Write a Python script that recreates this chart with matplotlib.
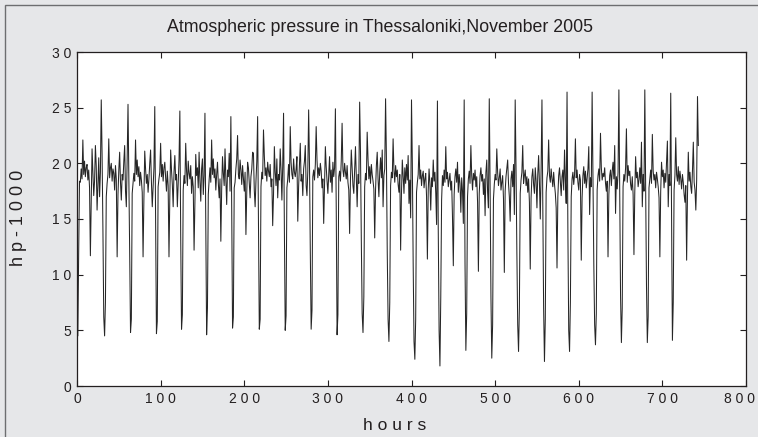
#!/usr/bin/env python3

import numpy as np
import matplotlib; matplotlib.use('Agg')
from matplotlib import pyplot as plt
from matplotlib.patches import Rectangle
from matplotlib.transforms import ScaledTranslation

############## DATA ################

# hourly pressure (hPa - 1000), one list per ~31 h cycle
pre = [7.0, 4.5, 12.0, 18.4, 18.3, 19.5, 18.6, 22.1, 19.0, 20.2, 18.8, 19.6, 19.9, 18.5, 19.4, 17.8, 11.7,
       16.5, 21.3, 19.2, 17.1, 18.4, 21.6, 19.8, 15.8, 18.0, 20.5, 17.0, 19.2, 25.7, 20.8, 14.0, 6.2]
c01 = [4.5, 7.5, 17.0, 18.2, 19.0, 22.2, 18.7, 19.6, 20.0, 18.4, 19.5, 19.1, 17.6, 19.8, 18.6, 11.6,
       17.2, 19.4, 21.0, 18.3, 16.7, 19.0, 18.5, 20.2, 21.6, 17.5, 16.1, 20.4, 25.3, 19.0, 12.0]
c02 = [4.8, 6.0, 17.3, 18.2, 19.1, 18.4, 22.1, 19.0, 20.3, 18.8, 19.7, 18.0, 19.2, 18.5, 17.4, 11.6,
       16.8, 21.1, 19.5, 18.2, 19.0, 17.4, 18.6, 20.0, 21.2, 18.3, 16.1, 17.8, 19.6, 25.1, 15.0]
c03 = [4.7, 5.8, 17.9, 18.6, 19.2, 21.8, 18.8, 19.9, 18.4, 19.6, 20.1, 18.7, 17.5, 19.3, 18.0, 11.6,
       17.0, 21.2, 19.4, 18.1, 16.1, 19.2, 20.7, 18.5, 19.0, 16.1, 18.2, 20.3, 24.7, 13.5]
c04 = [5.1, 6.4, 17.6, 18.9, 18.2, 21.8, 19.3, 18.0, 20.2, 19.1, 18.6, 19.8, 17.3, 18.8, 17.9, 12.2,
       16.5, 20.8, 18.9, 19.6, 17.8, 21.0, 18.4, 16.6, 19.5, 20.4, 17.2, 18.9, 24.5, 14.2]
c05 = [4.6, 7.0, 17.2, 18.5, 19.6, 18.3, 22.1, 19.0, 20.4, 18.7, 19.5, 17.6, 19.0, 20.1, 18.2, 16.9,
       18.6, 13.0, 17.7, 20.6, 19.1, 18.0, 21.3, 18.6, 16.3, 19.4, 18.8, 20.9, 17.5, 24.2, 16.0]
c06 = [5.2, 6.2, 17.8, 18.3, 19.5, 20.4, 22.5, 19.0, 18.6, 20.3, 19.4, 18.1, 19.8, 18.7, 17.5, 19.2,
       13.6, 17.4, 20.1, 19.6, 18.3, 16.9, 18.8, 19.5, 21.0, 20.9, 17.6, 16.1, 18.4, 20.2, 24.2, 15.0]
c07 = [5.1, 6.0, 17.9, 19.2, 18.6, 23.0, 20.7, 18.9, 19.6, 18.4, 20.1, 19.3, 18.8, 19.9, 17.9, 18.6,
       14.4, 17.2, 21.5, 19.2, 18.0, 20.4, 16.9, 19.0, 18.5, 21.3, 19.4, 16.7, 19.8, 24.5, 14.0]
c08 = [5.0, 6.3, 17.8, 18.6, 19.9, 18.3, 23.3, 20.1, 19.0, 18.6, 20.4, 19.2, 18.8, 19.5, 20.6, 14.8,
       17.9, 19.8, 21.8, 18.4, 19.0, 17.1, 19.5, 20.2, 21.6, 18.0, 17.1, 19.3, 24.8, 20.0, 12.0]
c09 = [5.1, 6.8, 18.8, 19.4, 18.5, 19.9, 23.3, 20.3, 18.7, 19.6, 18.9, 20.0, 19.3, 17.8, 18.6, 14.6,
       18.2, 21.5, 19.7, 18.4, 17.3, 19.0, 20.6, 18.3, 19.4, 17.4, 20.1, 18.8, 19.6, 24.9, 16.0]
c10 = [4.6, 6.4, 18.8, 19.3, 18.4, 20.2, 23.6, 19.4, 18.8, 20.0, 19.2, 18.6, 19.8, 18.3, 17.6, 13.7,
       18.5, 21.2, 19.6, 18.0, 17.3, 19.5, 21.5, 18.9, 16.1, 19.0, 18.2, 25.5, 21.0, 13.0, 6.5]
c11 = [4.8, 8.0, 17.9, 19.1, 18.5, 22.8, 20.4, 18.6, 19.7, 18.2, 19.9, 19.0, 18.4, 17.7, 13.3, 17.6,
       19.8, 21.0, 18.6, 17.0, 19.2, 20.5, 18.7, 21.2, 16.1, 18.9, 19.5, 25.8, 20.5, 12.0, 6.0]
c12 = [4.0, 7.5, 18.0, 19.2, 18.7, 22.2, 19.4, 18.3, 19.8, 18.8, 19.4, 18.1, 17.4, 19.0, 12.2, 17.3,
       20.3, 18.9, 17.3, 19.6, 18.2, 19.9, 18.5, 20.7, 16.4, 18.5, 15.1, 25.7, 20.0, 11.0, 4.0]
c13 = [2.4, 6.0, 17.4, 18.3, 19.0, 21.6, 18.6, 19.4, 18.0, 18.9, 19.3, 17.8, 18.6, 19.1, 17.0, 11.4,
       17.6, 19.5, 18.2, 15.8, 18.7, 17.9, 20.3, 18.4, 19.2, 17.3, 14.5, 25.6, 14.0, 5.0]
c14 = [1.8, 8.0, 16.7, 18.9, 18.0, 19.4, 18.3, 21.5, 18.6, 19.2, 17.9, 18.5, 19.1, 17.6, 18.4, 15.2,
       10.8, 17.2, 18.8, 19.5, 18.3, 20.1, 17.4, 19.0, 18.2, 15.6, 18.7, 17.5, 14.6, 25.7, 11.0]
c15 = [3.2, 6.5, 17.0, 18.6, 19.3, 18.2, 21.6, 18.9, 17.6, 19.1, 18.5, 19.4, 17.9, 18.8, 16.5, 10.3,
       17.3, 18.9, 19.6, 18.4, 19.0, 17.2, 18.6, 15.3, 19.2, 20.3, 17.4, 16.0, 25.8, 18.0, 8.0]
c16 = [2.5, 5.5, 16.8, 18.1, 19.0, 18.5, 21.3, 19.2, 18.0, 18.7, 19.5, 17.6, 18.3, 18.9, 16.8, 10.2,
       17.5, 18.8, 19.6, 20.3, 18.2, 17.0, 14.8, 18.6, 19.3, 17.9, 19.9, 15.4, 25.7, 19.5, 12.0, 5.5]
c17 = [3.1, 7.0, 17.3, 18.5, 19.2, 21.6, 18.2, 18.9, 19.4, 18.0, 18.8, 17.4, 18.6, 16.5, 10.5, 16.9,
       18.8, 19.5, 18.1, 17.3, 19.6, 18.4, 16.0, 19.0, 20.7, 18.2, 15.0, 19.5, 25.7, 16.0, 7.0]
c18 = [2.2, 6.0, 17.4, 18.7, 19.3, 22.1, 18.9, 18.3, 19.5, 18.6, 17.9, 19.2, 18.1, 17.3, 16.0, 10.6,
       17.0, 18.9, 19.6, 18.3, 17.1, 18.8, 19.4, 17.6, 21.2, 18.5, 16.4, 26.4, 14.0, 5.0]
c19 = [3.1, 7.5, 17.0, 18.6, 19.2, 18.1, 19.0, 22.2, 18.7, 19.4, 18.3, 17.6, 19.0, 18.5, 11.3, 16.9,
       18.9, 19.7, 18.2, 19.3, 17.8, 18.6, 19.5, 21.5, 15.4, 18.7, 17.9, 26.4, 19.0, 11.0, 5.5]
c20 = [3.7, 6.5, 17.6, 18.9, 19.5, 18.4, 22.7, 19.6, 18.5, 19.1, 18.8, 19.6, 18.2, 17.5, 18.4, 11.6,
       17.2, 18.9, 19.4, 18.0, 19.3, 20.1, 18.6, 21.6, 15.5, 18.8, 17.7, 19.2, 26.6, 17.0, 8.0]
c21 = [3.9, 7.0, 17.9, 19.0, 18.4, 19.6, 23.1, 18.3, 19.8, 18.9, 19.3, 18.1, 17.6, 18.8, 17.2, 11.8,
       17.4, 20.6, 18.7, 19.2, 17.9, 18.5, 19.6, 18.2, 21.9, 16.1, 19.0, 17.5, 26.6, 18.0, 9.0]
c22 = [3.9, 6.2, 17.8, 18.6, 19.4, 18.2, 22.6, 19.3, 18.5, 19.0, 17.8, 19.2, 18.6, 17.9, 16.9, 11.6,
       17.5, 20.1, 18.8, 19.4, 17.8, 19.1, 18.3, 20.2, 22.0, 16.1, 19.0, 18.0, 26.3, 15.0]
tail = [4.1, 7.5, 17.6, 18.9, 22.3, 19.0, 18.4, 19.7, 18.1, 19.3, 18.6, 17.7, 19.0, 18.3, 17.2, 16.5,
        18.0, 11.3, 17.0, 21.0, 18.4, 19.2, 17.9, 17.3, 19.4, 21.9, 18.3, 17.6, 15.8, 18.5, 26.0, 21.6]

cycles = [pre, c01, c02, c03, c04, c05, c06, c07, c08, c09, c10, c11, c12,
          c13, c14, c15, c16, c17, c18, c19, c20, c21, c22, tail]
pressure = np.concatenate(cycles)
hours = np.arange(len(pressure))

xticks = [0, 100, 200, 300, 400, 500, 600, 700, 800]
yticks = [0, 5, 10, 15, 20, 25, 30]

############## PLOT ################

plt.rcParams['font.family'] = ['Liberation Sans', 'DejaVu Sans']
bg = '#e6e7e9'
ink = '#231f20'

fig = plt.figure(figsize=(7.58, 4.37), dpi=100, facecolor=bg)
# thin frame round the whole picture (open to the right and bottom)
fig.patches.append(Rectangle((5 / 758, -0.1), 1.2, (437 - 5) / 437 + 0.1,
                             transform=fig.transFigure, fill=False,
                             edgecolor='#6d6e70', linewidth=1.0))

ax = fig.add_axes([77 / 758, 51 / 437, (746 - 77) / 758, (386 - 52) / 437])
ax.set_facecolor('white')

ax.plot(hours, pressure, color='#262626', linewidth=0.75)

ax.set_xlim(0, 800)
ax.set_ylim(0, 30)
ax.set_xticks(xticks)
ax.set_yticks(yticks)
ax.set_xticklabels([' '.join(str(t)) for t in xticks])
ax.set_yticklabels([' '.join(str(t)) for t in yticks])
ax.tick_params(direction='in', length=4, width=0.8, top=True, right=True,
               labelsize=10, colors=ink, pad=4)
for s in ax.spines.values():
    s.set_color(ink)
    s.set_linewidth(0.9)

# last x label sits against the picture edge: nudge it left so it stays inside
last = ax.get_xticklabels()[-1]
last.set_transform(last.get_transform() + ScaledTranslation(-6 / 100, 0, fig.dpi_scale_trans))

fig.text(380 / 758, 1 - 27 / 437, 'Atmospheric pressure in Thessaloniki,November 2005',
         ha='center', va='center', fontsize=12.8, color=ink)
fig.text(395 / 758, 1 - 425 / 437, 'h o u r s', ha='center', va='center',
         fontsize=12.5, color=ink)
fig.text(19 / 758, 1 - 218 / 437, 'h p - 1 0 0 0', ha='center', va='center',
         rotation=90, fontsize=13, color=ink)

plt.savefig('out.png', dpi=100, facecolor=bg)
plt.close()
